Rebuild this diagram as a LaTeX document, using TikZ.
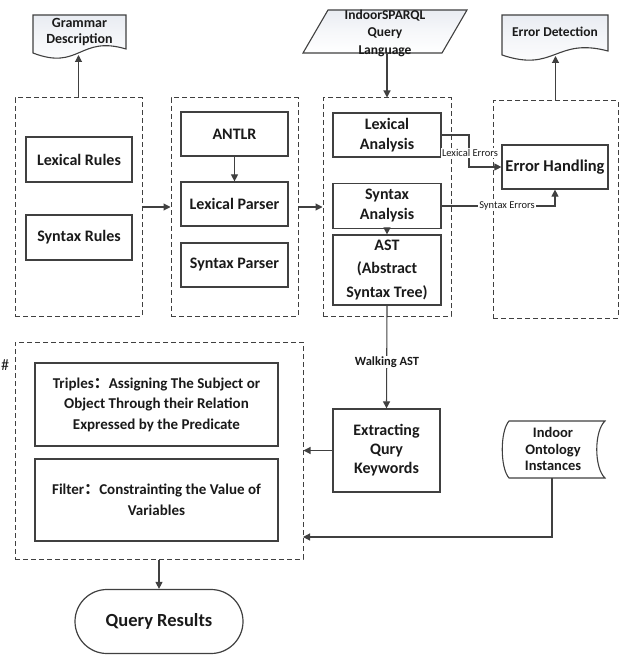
\documentclass[tikz,border=0pt]{standalone}
\usepackage{fontspec}
\setmainfont{Carlito}
\newfontfamily\cjkfont{Noto Sans CJK SC}
\usetikzlibrary{arrows.meta,calc}

\definecolor{ln}{HTML}{404040}
\definecolor{txt}{HTML}{1A1A1A}
\definecolor{docfill}{HTML}{E9ECF2}

\tikzset{
  arr/.style={draw=ln, line width=1.1pt, -{Triangle[length=7pt,width=7pt]}},
  plain/.style={draw=ln, line width=1.1pt},
  grp/.style={draw=ln, line width=1pt, dash pattern=on 5pt off 3pt, rectangle, inner sep=0pt},
  stepbox/.style={draw=ln, line width=1.2pt, fill=white, rectangle, align=center, inner sep=0pt,
    text=txt, font=\bfseries\fontsize{16}{20}\selectfont},
  wide/.style={stepbox, font=\bfseries\fontsize{15}{20.5}\selectfont},
  lbl/.style={fill=white, inner sep=1pt, text=txt, font=\fontsize{10.5}{12}\selectfont},
  doctext/.style={align=center, text=txt, inner sep=0pt, font=\bfseries\fontsize{13.5}{17}\selectfont},
  shapeline/.style={draw=ln, line width=1.1pt},
}

% document symbol with a wavy bottom edge: #1 left, #2 top, #3 right, #4 bottom
\newcommand{\docsym}[4]{%
  \shade[top color=docfill, bottom color=white, middle color=white!60!docfill, draw=ln, line width=1.1pt]
    (#1,#2) -- (#3,#2) -- (#3,#4-4)
    .. controls ({(#1+#3)/2},#4-18) and ({(#1+#3)/2},#4+18) .. (#1,#4) -- cycle;}

\begin{document}
\begin{tikzpicture}[x=1pt,y=-1pt]
\useasboundingbox (0,0) rectangle (620,655);

% ---- dashed groups
\node[grp, minimum width=127pt, minimum height=218pt] (g1) at (78.5,207) {};
\node[grp, minimum width=127pt, minimum height=218pt] (g2) at (234.5,207) {};
\node[grp, minimum width=128pt, minimum height=218pt] (g3) at (387,207) {};
\node[grp, minimum width=125pt, minimum height=217pt] (g4) at (555.5,209.5) {};
\node[grp, minimum width=288pt, minimum height=217pt] (g5) at (159,450.5) {};

% ---- documents and input symbols
\docsym{33}{15}{126}{53}
\node[doctext, font=\bfseries\fontsize{14}{16.5}\selectfont] (gd) at (79.5,32) {Grammar\\Description};
\coordinate (gdb) at (78.5,55);

\docsym{502}{15}{608}{55}
\node[doctext] (ed) at (555,32) {Error Detection};
\coordinate (edb) at (555.5,56);

\shade[top color=docfill, bottom color=white, middle color=white!60!docfill, draw=ln, line width=1.1pt]
  (303,53) -- (328,10) -- (467,10) -- (442,53) -- cycle;
\node[doctext, font=\bfseries\fontsize{13.5}{17.5}\selectfont] (sparql) at (385,33) {IndoorSPARQL\\Query\\Language};
\coordinate (sparqlb) at (387,53);

\filldraw[fill=white, shapeline]
  (509,421) -- (605,421) .. controls (594,431) and (594,468) .. (605,478)
  -- (509,478) .. controls (500,468) and (500,431) .. (509,421) -- cycle;
\node[doctext, font=\bfseries\fontsize{14.5}{16.7}\selectfont] (onto) at (553,449) {Indoor\\Ontology\\Instances};
\coordinate (ontob) at (552,478);
\coordinate (g5in) at (303,537);

% ---- process boxes
\node[stepbox, minimum width=106pt, minimum height=45pt] (lexr) at (79,159.5) {Lexical Rules};
\node[stepbox, minimum width=106pt, minimum height=45pt] (synr) at (79,237.5) {Syntax Rules};

\node[stepbox, minimum width=107pt, minimum height=44pt] (antlr) at (234.5,134) {ANTLR};
\node[stepbox, minimum width=107pt, minimum height=44pt] (lexp) at (234.5,204) {Lexical Parser};
\node[stepbox, minimum width=107pt, minimum height=44pt] (synp) at (234.5,265) {Syntax Parser};

\node[stepbox, minimum width=108pt, minimum height=44pt] (lexa) at (387,135) {Lexical\\Analysis};
\node[stepbox, minimum width=108pt, minimum height=45pt] (syna) at (387,206) {Syntax\\Analysis};
\node[stepbox, minimum width=108pt, minimum height=70pt, font=\bfseries\fontsize{16}{23.5}\selectfont] (ast) at (387,270) {AST\\(Abstract\\Syntax Tree)};

\node[stepbox, minimum width=106pt, minimum height=44pt, font=\bfseries\fontsize{16.5}{20}\selectfont] (errh) at (555,167) {Error Handling};

\node[stepbox, minimum width=107pt, minimum height=83pt, font=\bfseries\fontsize{16}{19}\selectfont] (extr) at (386.5,450.5) {Extracting\\Qury\\Keywords};

\node[wide, minimum width=243pt, minimum height=83pt] (trip) at (156.5,404.5)
  {Triples{\cjkfont ：}Assigning The Subject or\\Object Through their Relation\\Expressed by the Predicate};
\node[wide, minimum width=243pt, minimum height=82pt] (filt) at (156.5,500)
  {Filter{\cjkfont ：}Constrainting the Value of\\Variables};

\node[draw=ln, line width=1.2pt, fill=white, rounded corners=32pt, minimum width=168pt,
  minimum height=64pt, inner sep=0pt, text=txt, font=\bfseries\fontsize{18.5}{22}\selectfont]
  (qres) at (159,621.5) {Query Results};

\node[text=txt, inner sep=0pt, font=\fontsize{16}{18}\selectfont] (hash) at (5,365) {\#};

% ---- connectors
\draw[arr] (g1.north) -- (gdb);
\draw[arr] (g4.north) -- (edb);
\draw[arr] (sparqlb) -- (g3.north);
\draw[arr] (g1.east) -- (g2.west);
\draw[arr] (g2.east) -- (g3.west);
\draw[arr] (antlr.south) -- (lexp.north);
\draw[arr] (syna.south) -- (ast.north);

\coordinate (lexbend) at (469,135);
\draw[arr] (lexa.east) -- (lexbend) |- (errh.west);
\node[lbl] (lexerr) at (470,153) {Lexical Errors};

\draw[arr] (syna.east) -| (errh.south);
\node[lbl] (synerr) at (507,206) {Syntax Errors};

\draw[arr] (ast.south) -- (extr.north);
\node[lbl, font=\bfseries\fontsize{12.5}{14}\selectfont] (walk) at (387,362) {Walking AST};

\draw[arr] (extr.west) -- (extr.west -| g5.east);
\draw[arr] (ontob) |- (g5in);
\draw[arr] (g5.south) -- (qres.north);

\end{tikzpicture}
\end{document}
